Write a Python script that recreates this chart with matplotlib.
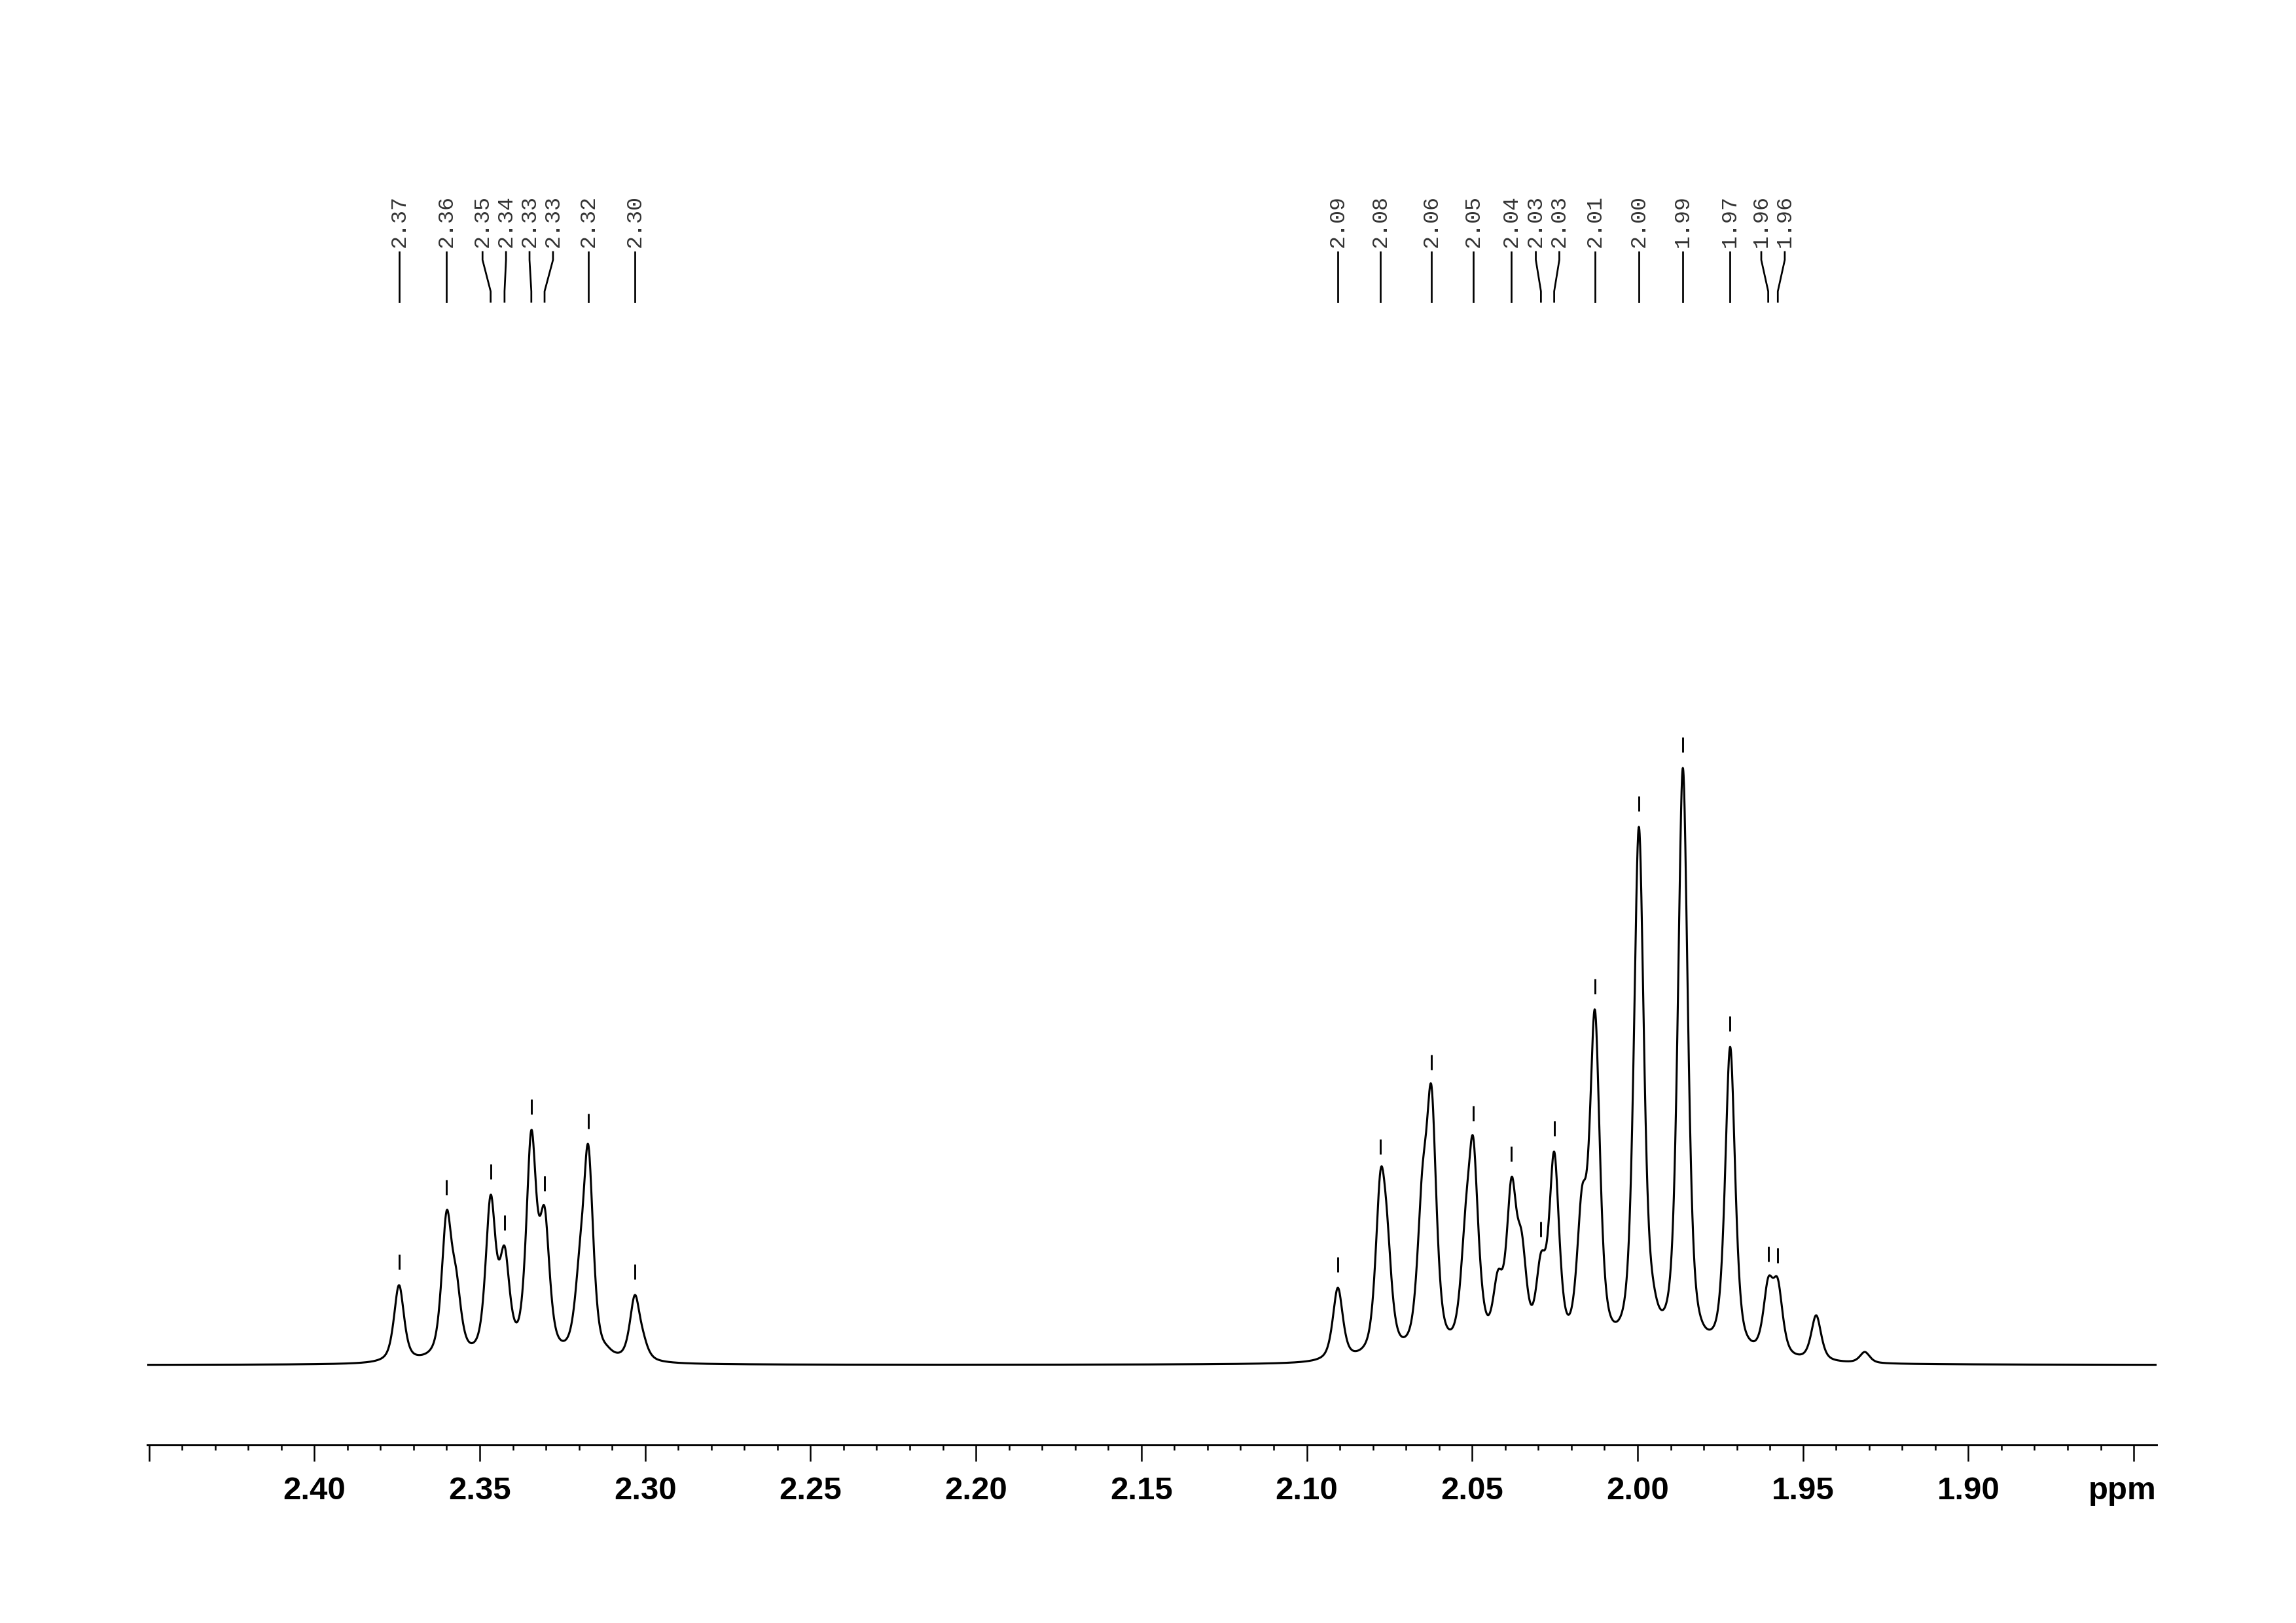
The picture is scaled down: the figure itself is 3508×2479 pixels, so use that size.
import numpy as np
import matplotlib
matplotlib.use("Agg")
import matplotlib.pyplot as plt
from matplotlib.transforms import blended_transform_factory
from matplotlib.ticker import MultipleLocator, FixedLocator

# ---------------- data ----------------
# spectrum components: chemical shift (ppm) and observed height (a.u.)
peak_ppm = [2.3744, 2.3600, 2.3571, 2.3467, 2.3425, 2.3344, 2.3304, 2.3199,
            2.3172, 2.3115, 2.3031, 2.3005,
            2.0906, 2.0777, 2.0757, 2.0651, 2.0623, 2.0521, 2.0497, 2.0473,
            2.0422, 2.0381, 2.0350, 2.0292, 2.0252, 2.0168, 2.0129, 2.0096,
            1.9996, 1.9954, 1.9863, 1.9819, 1.9720, 1.9681, 1.9605, 1.9576,
            1.9549, 1.9460, 1.9313]
peak_height = [122, 236, 147, 260, 182, 359, 242, 178,
               337, 30, 107, 50,
               118, 298, 232, 298, 427, 238, 349, 142,
               145, 287, 203, 172, 326, 272, 543, 122,
               822, 135, 912, 95, 486, 58, 134, 132,
               25, 76, 20]
line_fwhm = 0.0036      # ppm
lorentz_frac = 0.6

# picked peaks (labels on top)
label_ppm = [2.3744, 2.3600, 2.3467, 2.3425, 2.3344, 2.3304, 2.3172, 2.3031,
             2.0906, 2.0777, 2.0623, 2.0497, 2.0381, 2.0292, 2.0252, 2.0129,
             1.9996, 1.9863, 1.9720, 1.9605, 1.9576]
label_text = ["2.37", "2.36", "2.35", "2.34", "2.33", "2.33", "2.32", "2.30",
              "2.09", "2.08", "2.06", "2.05", "2.04", "2.03", "2.03", "2.01",
              "2.00", "1.99", "1.97", "1.96", "1.96"]

x_major = [2.45, 2.40, 2.35, 2.30, 2.25, 2.20, 2.15, 2.10, 2.05, 2.00, 1.95, 1.90, 1.85]
x_major_labels = ["", "2.40", "2.35", "2.30", "2.25", "2.20", "2.15", "2.10",
                  "2.05", "2.00", "1.95", "1.90", ""]
x_left, x_right = 2.4505, 1.8431

# ---------------- figure geometry ----------------
W, H = 3508, 2479
DPI = 300
fig = plt.figure(figsize=(W / DPI, H / DPI), dpi=DPI)
ax_left_px, ax_right_px = 225, 3295
ax_bottom_px, ax_top_px = 2207, 100     # from top of figure
baseline_px = 2085
ax = fig.add_axes([ax_left_px / W, 1 - ax_bottom_px / H,
                   (ax_right_px - ax_left_px) / W, (ax_bottom_px - ax_top_px) / H])


def pv(x, x0, w, eta):
    d = (x - x0) / (w / 2.0)
    return eta / (1 + d ** 2) + (1 - eta) * np.exp(-np.log(2) * d ** 2)


P = np.array(peak_ppm)
Hh = np.array(peak_height, dtype=float)
M = pv(P[:, None], P[None, :], line_fwhm, lorentz_frac)
amp = Hh.copy()
for _ in range(800):
    amp = np.clip(amp + 0.5 * (Hh - M @ amp), 0, None)

xs = np.linspace(x_left, x_right, 8000)
spec = (amp[None, :] * pv(xs[:, None], P[None, :], line_fwhm, lorentz_frac)).sum(axis=1)

ax.plot(xs, spec, color="black", lw=0.75, solid_joinstyle="round")
ax.set_xlim(x_left, x_right)
ax.set_ylim(-(ax_bottom_px - baseline_px), baseline_px - ax_top_px)

# axis styling
for s in ["top", "left", "right"]:
    ax.spines[s].set_visible(False)
ax.spines["bottom"].set_linewidth(0.7)
ax.set_yticks([])
ax.xaxis.set_major_locator(FixedLocator(x_major))
ax.set_xticklabels(x_major_labels)
ax.xaxis.set_minor_locator(MultipleLocator(0.01))
ax.tick_params(axis="x", which="major", length=6.0, width=0.6, pad=5.5,
               labelsize=11.8, direction="out")
ax.tick_params(axis="x", which="minor", length=1.9, width=0.6, direction="out")
for t in ax.get_xticklabels():
    t.set_fontfamily("Liberation Sans")
    t.set_fontweight("bold")

fig.text(ax_right_px / W, 1 - 2290 / H, "ppm", ha="right", va="baseline",
         fontsize=11.8, fontweight="bold", family="Liberation Sans")

# small marks above picked peaks
lab = np.array(label_ppm)
lab_h = (amp[None, :] * pv(lab[:, None], P[None, :], line_fwhm, lorentz_frac)).sum(axis=1)
for xp, hp in zip(lab, lab_h):
    ax.plot([xp, xp], [hp + 24, hp + 47], color="black", lw=0.7,
            solid_capstyle="butt")


# label spreading
def spread(vals, gap):
    order = np.argsort(-np.array(vals))
    u = [-vals[i] for i in order]
    clusters = [[v] for v in u]
    changed = True
    while changed:
        changed = False
        starts = [np.mean(c) - (len(c) - 1) * gap / 2 for c in clusters]
        for i in range(len(clusters) - 1):
            end_i = starts[i] + (len(clusters[i]) - 1) * gap
            if starts[i + 1] < end_i + gap:
                clusters[i] = clusters[i] + clusters[i + 1]
                del clusters[i + 1]
                changed = True
                break
    out = []
    for c in clusters:
        s = np.mean(c) - (len(c) - 1) * gap / 2
        out += [s + k * gap for k in range(len(c))]
    res = np.empty(len(vals))
    for k, i in enumerate(order):
        res[i] = -out[k]
    return res


top_x = spread(label_ppm, 0.0071)
trans = blended_transform_factory(ax.transData, fig.transFigure)


def fy(px):
    return 1 - px / H


for xb, xt, txt in zip(label_ppm, top_x, label_text):
    ax.plot([xt, xt, xb, xb], [fy(385), fy(397), fy(445), fy(461)],
            transform=trans, color="black", lw=0.65, clip_on=False,
            solid_joinstyle="miter")
    ax.text(xt, fy(378), txt, transform=trans, rotation=90, ha="center",
            va="bottom", fontsize=8, family="Liberation Mono", color="#333333",
            clip_on=False)

fig.savefig("out.png", dpi=DPI, facecolor="white")
